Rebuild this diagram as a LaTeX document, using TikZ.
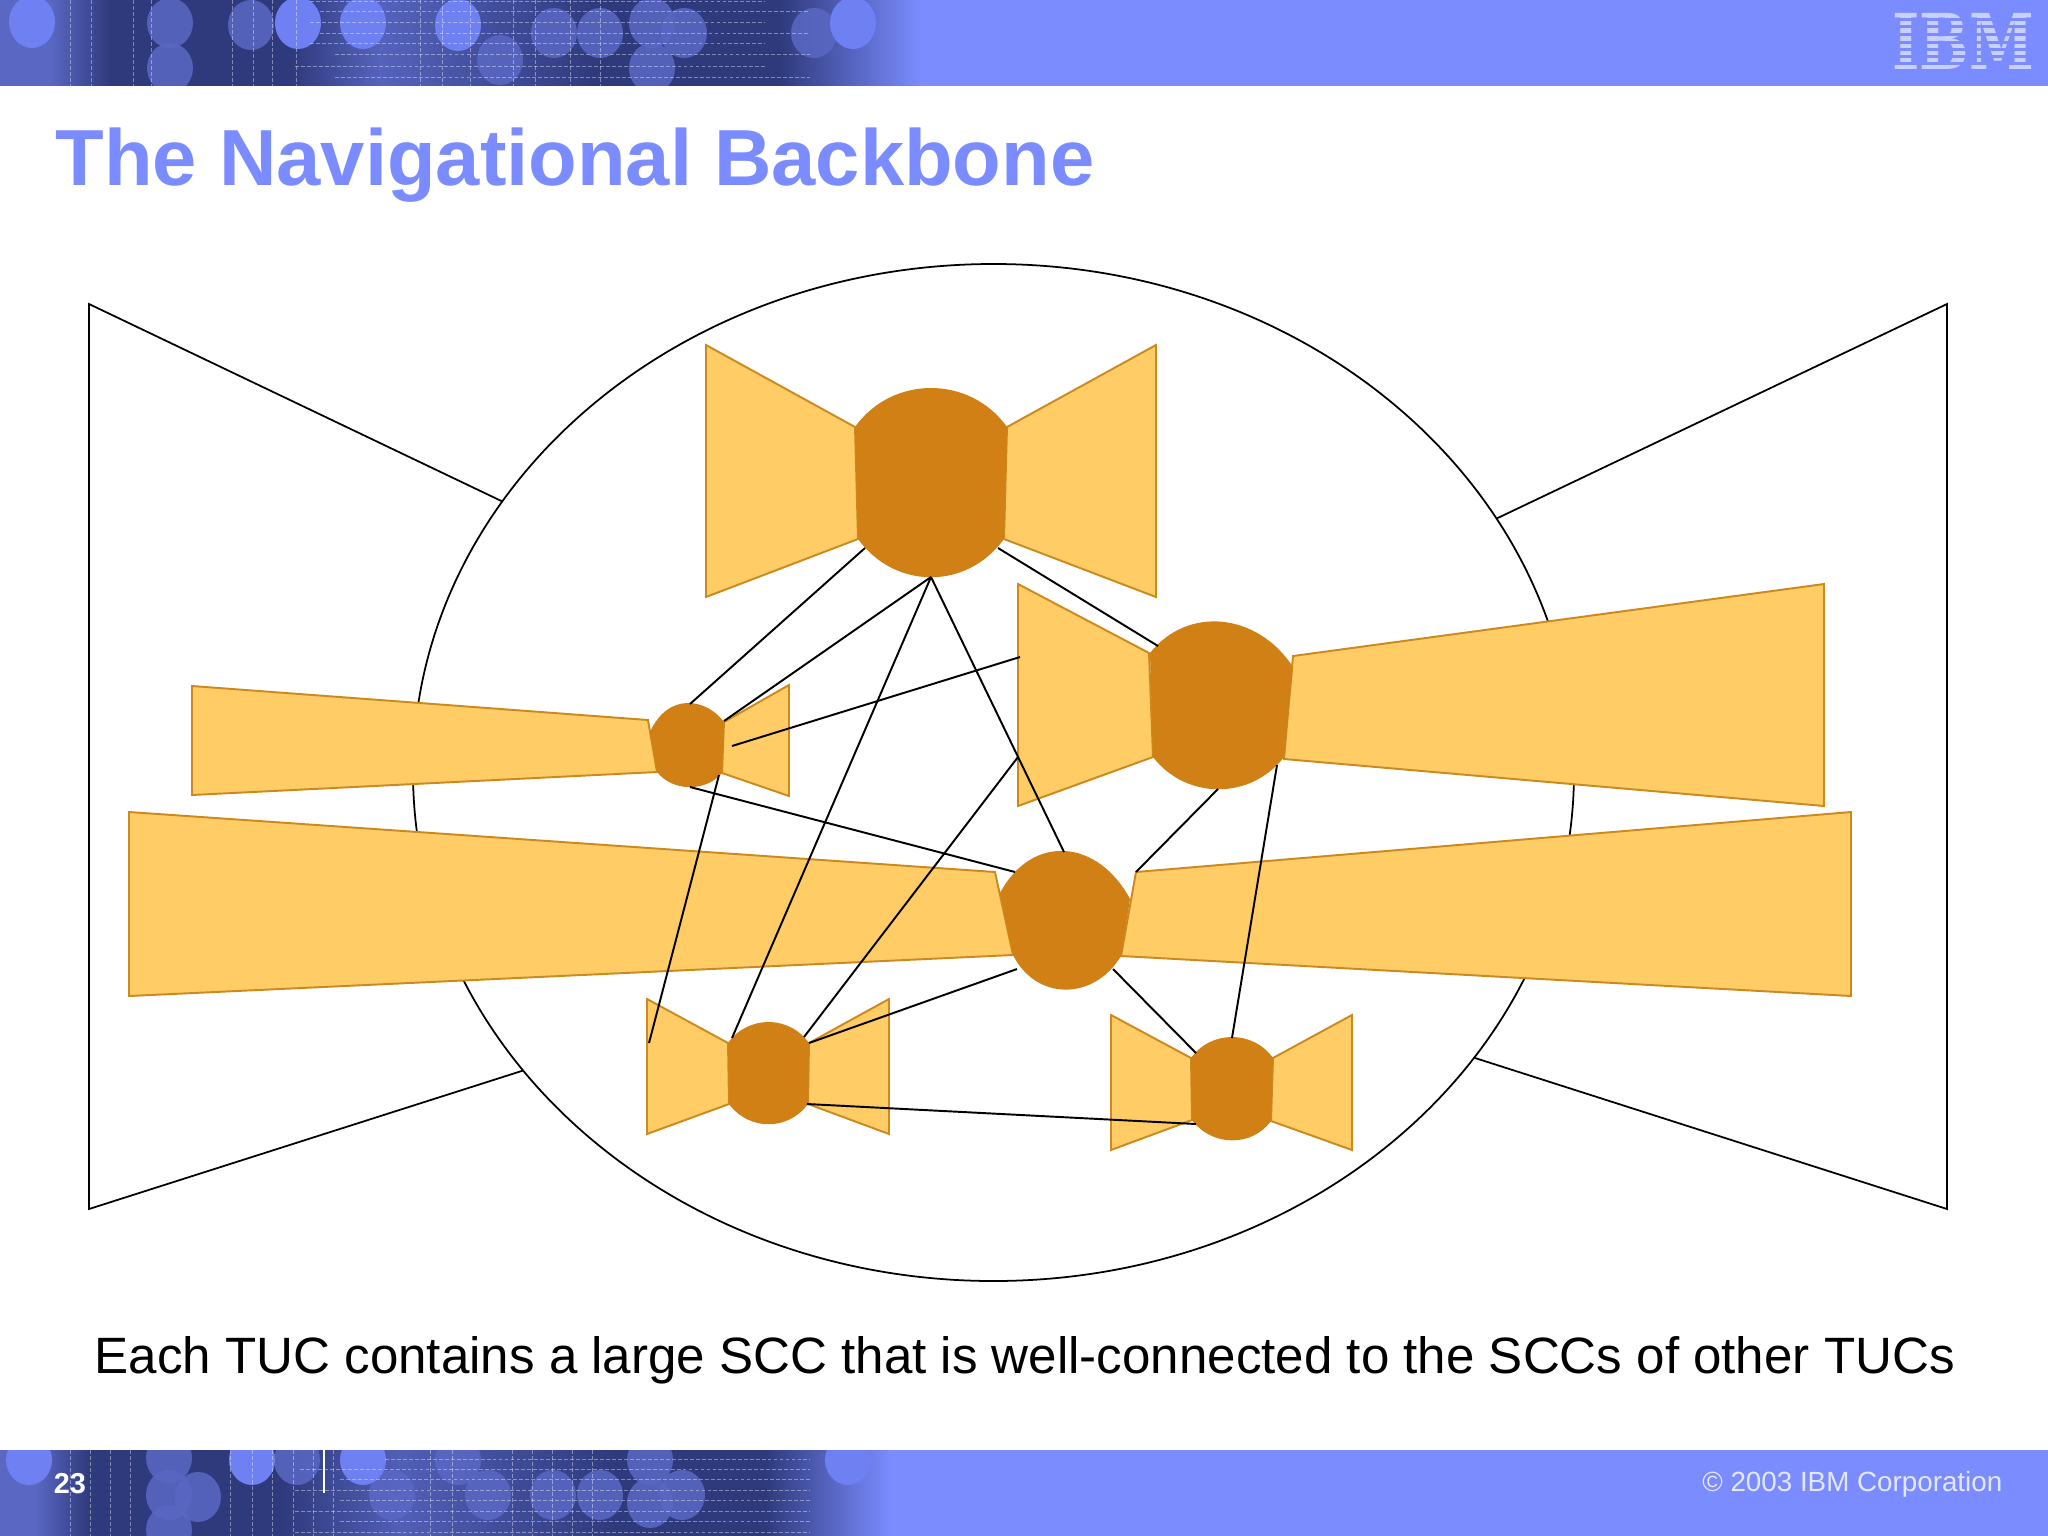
\documentclass[tikz,border=0pt]{standalone}
\usepackage{fontspec}
\setmainfont{Liberation Sans}
\newfontfamily\logofont{DejaVu Serif}
\definecolor{bannerblue}{HTML}{7A8CFF}
\definecolor{navy}{HTML}{2F3A7C}
\definecolor{wingfill}{HTML}{FFCC66}
\definecolor{wingline}{HTML}{CC8A1E}
\definecolor{sccfill}{HTML}{D08014}
\definecolor{spotbright}{HTML}{6E80F2}
\definecolor{spotmid}{HTML}{5A68C4}
\definecolor{logobar}{HTML}{C8D0FF}

\begin{document}
\begin{tikzpicture}
        [x=0.01cm, y=-0.01cm,
        outer/.style={draw=black, fill=white, line width=0.5pt},
        wing/.style={draw=wingline, fill=wingfill, line width=0.55pt, line join=miter},
        scc/.style={fill=sccfill},
        link/.style={black, line width=0.55pt},
        griddash/.style={white, opacity=0.4, line width=0.25pt, dash pattern=on 1.1pt off 0.6pt},
        brightspot/.style={fill=spotbright},
        midspot/.style={fill=spotmid, opacity=0.85}]

        \useasboundingbox (0,0) rectangle (2048,1536);

        % top banner
        \begin{scope}
        \clip (0,0) rectangle (2048,86);
        \fill[bannerblue] (0,0) rectangle (2048,86);
        \fill[navy] (110,0) rectangle (780,86);
        \shade[left color=spotmid, right color=navy] (50,0) rectangle (110,86);
        \fill[spotmid] (0,0) rectangle (50,86);
        \shade[left color=navy, right color=bannerblue] (780,0) rectangle (920,86);
        \shade[left color=navy, right color=spotmid, opacity=0.9] (290,0) rectangle (380,86);
        \shade[left color=spotmid, right color=navy, opacity=0.9] (380,0) rectangle (600,86);
        \foreach \cx/\cy in {170/23, 251/25, 652/23, 170/68, 652/68, 554/33, 600/33, 684/33, 814/33, 500/60}
            \fill[midspot] (\cx,\cy) ellipse [x radius=23, y radius=25];
        \foreach \cx/\cy in {32/22, 298/23, 363/23, 458/25, 853/23}
            \fill[brightspot] (\cx,\cy) ellipse [x radius=23, y radius=26];
        \foreach \gx in {70,91,133,151,232,253,272,296,420,442,470,513,535,570,600}
            \draw[griddash] (\gx,0) -- (\gx,86);
        \foreach \gy/\gl/\gr in {1/310/765, 11/320/810, 22/310/765, 33/320/810, 43/310/765, 54/335/810, 66/295/765, 77/335/810}
            \draw[griddash] (\gl,\gy) -- (\gr,\gy);
        \end{scope}
        \fill[white] (0,86) rectangle (2048,92);

        % bottom banner
        \begin{scope}
        \clip (0,1450) rectangle (2048,1536);
        \fill[bannerblue] (0,1450) rectangle (2048,1536);
        \fill[navy] (90,1450) rectangle (765,1536);
        \shade[left color=spotmid, right color=navy] (35,1450) rectangle (90,1536);
        \fill[spotmid] (0,1450) rectangle (35,1536);
        \shade[left color=navy, right color=bannerblue] (765,1450) rectangle (890,1536);
        \shade[left color=navy, right color=spotmid, opacity=0.8] (280,1450) rectangle (400,1536);
        \shade[left color=spotmid, right color=navy, opacity=0.8] (400,1450) rectangle (620,1536);
        \foreach \cx/\cy in {169/1458, 297/1460, 458/1460, 650/1460, 169/1495, 198/1497, 392/1495, 488/1495, 553/1495, 600/1495, 682/1495, 650/1503, 169/1530}
            \fill[midspot] (\cx,\cy) ellipse [x radius=23, y radius=25];
        \foreach \cx/\cy in {29/1460, 252/1460, 363/1460, 848/1460}
            \fill[brightspot] (\cx,\cy) ellipse [x radius=23, y radius=25];
        \foreach \gx in {70,90,110,130,230,252,272,293,313,333,430,452,512,532,552,572,592}
            \draw[griddash] (\gx,1450) -- (\gx,1536);
        \foreach \gy/\gl/\gr in {1459/385, 1469/300, 1479/340, 1490/295, 1500/340, 1511/295, 1521/340, 1532/295}
            \draw[griddash] (\gl,\gy) -- (810,\gy);
        \draw[white, line width=0.5pt] (324,1450) -- (324,1493);
        \end{scope}
        \fill[white] (0,1444) rectangle (2048,1450);

        % header and footer texts
        \node[anchor=base west, inner sep=0pt, text=bannerblue, font=\fontsize{22.62}{27}\selectfont\bfseries] (title) at (55,185) {The Navigational Backbone};
        \node[inner sep=0pt, text=white, font=\fontsize{8.2}{10}\selectfont\bfseries] (page) at (70,1484) {23};
        \node[anchor=east, inner sep=0pt, text=logobar!50!white, font=\fontsize{7.9}{9}\selectfont] (copy) at (2003,1484) {© 2003 IBM Corporation};
        \node[inner sep=0pt, text=logobar, transform shape, xscale=0.76, font=\fontsize{21.9}{26}\selectfont\logofont\bfseries] (logo) at (1963,41) {IBM};
        \foreach \gy in {17.8,25.3,33.3,40.8,47.8,55.3,62.3}
            \fill[bannerblue] (1880,\gy) rectangle (2045,\gy+2.8);
        \node[anchor=base west, inner sep=0pt, font=\fontsize{14.53}{17}\selectfont] (caption) at (94,1373) {Each TUC contains a large SCC that is well-connected to the SCCs of other TUCs};

        % big bow tie
        \draw[outer] (89,304) -- (560,529) -- (600,1046) -- (89,1209) -- cycle;
        \draw[outer] (1947,304) -- (1420,555) -- (1400,1034) -- (1947,1209) -- cycle;
        \draw[outer] (993.5,772.5) ellipse [x radius=580.5, y radius=508.5];

        % wings of the small bow ties
        \draw[wing] (706,345) -- (855,427) -- (858,539) -- (706,597) -- cycle;
        \draw[wing] (1156,345) -- (1007,427) -- (1004,539) -- (1156,597) -- cycle;
        \draw[wing] (1018,584) -- (1149,653) -- (1153,757) -- (1018,806) -- cycle;
        \draw[wing] (1824,584) -- (1293,656) -- (1284,759) -- (1824,806) -- cycle;
        \draw[wing] (192,686) -- (648,720) -- (657,772) -- (192,795) -- cycle;
        \draw[wing] (789,685) -- (724,722) -- (722,773) -- (789,796) -- cycle;
        \draw[wing] (129,812) -- (995,872) -- (1013,955) -- (129,996) -- cycle;
        \draw[wing] (1851,812) -- (1136,872) -- (1121,956) -- (1851,996) -- cycle;
        \draw[wing] (647,999) -- (728,1043) -- (729,1104) -- (647,1134) -- cycle;
        \draw[wing] (889,999) -- (809,1043) -- (808,1104) -- (889,1134) -- cycle;
        \draw[wing] (1111,1015) -- (1191,1058) -- (1192,1120) -- (1111,1150) -- cycle;
        \draw[wing] (1352,1015) -- (1273,1058) -- (1271,1121) -- (1352,1150) -- cycle;

        % SCC bulges
        \fill[scc] (855,427) .. controls (892,375) and (970,375) .. (1007,427) -- (1004,539) .. controls (967,590) and (895,590) .. (858,539) -- cycle;
        \fill[scc] (1150,653) .. controls (1187,606) and (1257,612) .. (1293,667) -- (1284,757) .. controls (1251,800) and (1186,800) .. (1153,757) -- cycle;
        \fill[scc] (650,732) .. controls (668,692) and (706,698) .. (724,722) -- (722,773) .. controls (706,792) and (673,792) .. (657,772) -- cycle;
        \fill[scc] (1000,893) .. controls (1032,833) and (1098,839) .. (1130,899) -- (1121,956) .. controls (1094,1001) and (1036,1001) .. (1013,955) -- cycle;
        \fill[scc] (728,1043) .. controls (748,1015) and (789,1015) .. (809,1043) -- (808,1104) .. controls (788,1131) and (749,1131) .. (729,1104) -- cycle;
        \fill[scc] (1191,1058) .. controls (1211,1030) and (1253,1030) .. (1273,1058) -- (1271,1121) .. controls (1252,1147) and (1212,1147) .. (1192,1120) -- cycle;

        % link ends
        \coordinate (topSW) at (865,548);
        \coordinate (topS) at (931,577);
        \coordinate (topSE) at (998,548);
        \coordinate (rightNW) at (1158,646);
        \coordinate (rightW) at (1020,657);
        \coordinate (rightSW) at (1018,757);
        \coordinate (rightS) at (1218,789);
        \coordinate (rightSE) at (1277,765);
        \coordinate (leftN) at (690,704);
        \coordinate (leftNE) at (724,721);
        \coordinate (leftE) at (732,746);
        \coordinate (leftS) at (690,787);
        \coordinate (leftSE) at (719,775);
        \coordinate (midN) at (1064,852);
        \coordinate (midNW) at (1015,872);
        \coordinate (midNE) at (1136,872);
        \coordinate (midSW) at (1017,969);
        \coordinate (midSE) at (1113,969);
        \coordinate (lowW) at (649,1043);
        \coordinate (lowNW) at (732,1038);
        \coordinate (lowNE) at (804,1037);
        \coordinate (lowE) at (809,1043);
        \coordinate (lowSE) at (807,1104);
        \coordinate (endN) at (1232,1038);
        \coordinate (endNW) at (1196,1053);
        \coordinate (endSW) at (1196,1124);

        % links between the SCCs
        \draw[link] (topSW) -- (leftN);
        \draw[link] (topS) -- (leftNE);
        \draw[link] (topS) -- (lowNW);
        \draw[link] (topS) -- (midN);
        \draw[link] (topSE) -- (rightNW);
        \draw[link] (rightW) -- (leftE);
        \draw[link] (rightSW) -- (lowNE);
        \draw[link] (rightS) -- (midNE);
        \draw[link] (rightSE) -- (endN);
        \draw[link] (leftS) -- (midNW);
        \draw[link] (leftSE) -- (lowW);
        \draw[link] (midSW) -- (lowE);
        \draw[link] (midSE) -- (endNW);
        \draw[link] (lowSE) -- (endSW);

    \end{tikzpicture}
\end{document}
